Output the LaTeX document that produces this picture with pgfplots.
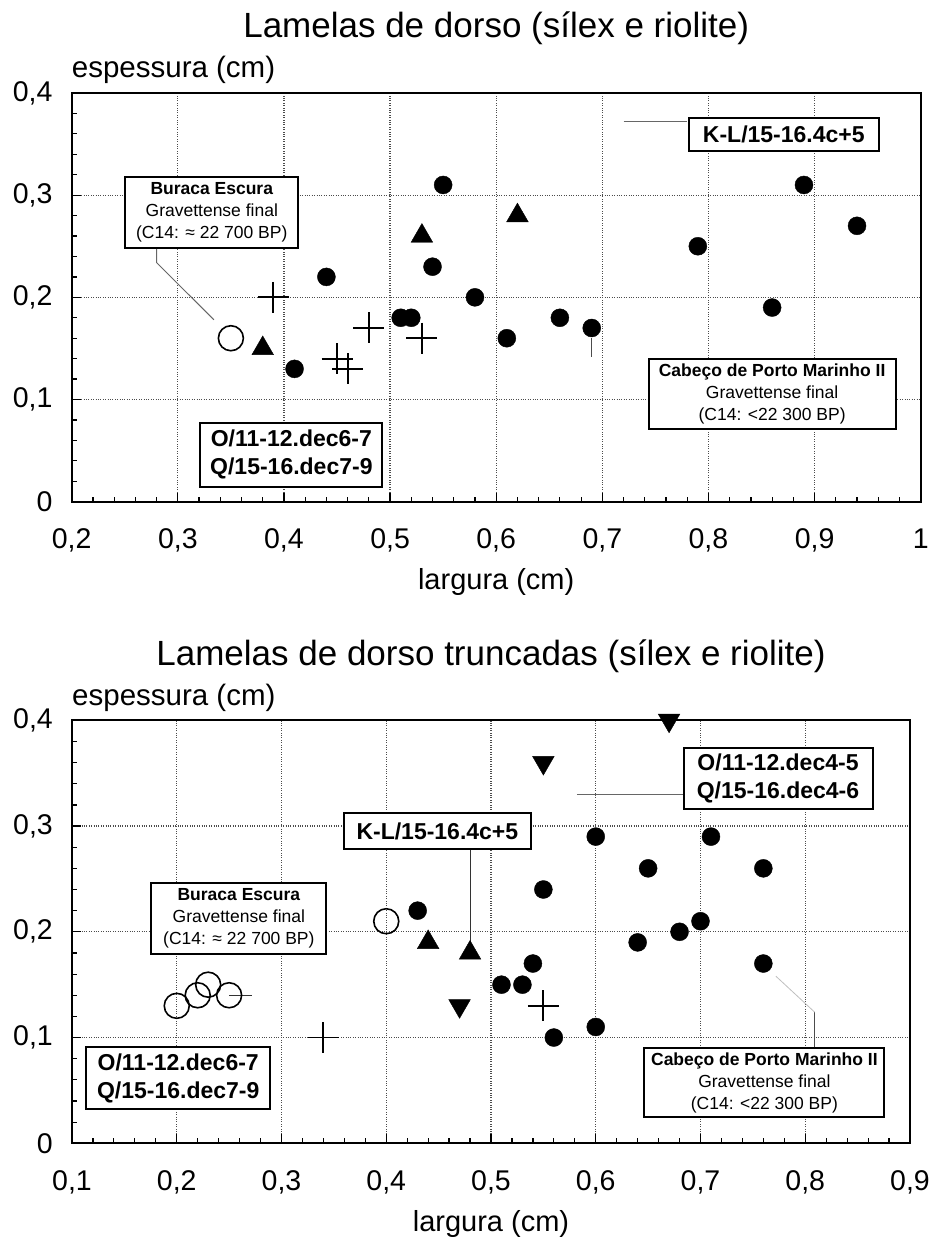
\documentclass[border=0pt]{standalone}
\usepackage{fontspec}
\setmainfont{Liberation Sans}
\usepackage{pgfplots}
\pgfplotsset{compat=1.18}
\newcommand{\fs}[2]{\fontsize{#1}{#2}\selectfont}

\pgfplotsset{
  mystyle/.style={
    scale only axis, clip=false,
    tick align=inside, tick pos=left,
    major tick length=9pt, minor tick length=5pt,
    minor x tick num=4, minor y tick num=4,
    grid=major, major grid style={dotted, line width=1.2pt, black!70},
    axis line style={line width=2.2pt},
    every tick/.style={black, line width=1.2pt},
    every tick label/.append style={font=\fs{28.5}{30}, inner sep=0pt},
    xticklabel style={anchor=north, yshift=-27pt},
    yticklabel style={anchor=east, xshift=-19pt},
    ymin=0, ymax=0.4, ytick={0,0.1,0.2,0.3,0.4},
    yticklabels={0,{0,1},{0,2},{0,3},{0,4}},
    every axis title/.style={at={(0.5,1)}, anchor=base, yshift=55pt, font=\fs{35}{38}, inner sep=0pt},
    every axis x label/.style={at={(0.5,0)}, anchor=base, yshift=-88pt, font=\fs{29}{32}, inner sep=0pt},
    every axis y label/.style={at={(0,1)}, anchor=base west, yshift=15pt, font=\fs{29.5}{32}, inner sep=0pt},
    xlabel={largura (cm)}, ylabel={espessura (cm)},
  },
  fc/.style={only marks, mark=*, mark size=9pt, black, mark options={fill=black}},
  oc/.style={only marks, mark=o, mark size=12.5pt, black, line width=1.6pt},
  tu/.style={only marks, mark=triangle*, mark size=12.5pt, black},
  td/.style={only marks, mark=triangle*, mark size=12.5pt, black, mark options={rotate=180}},
  pl/.style={only marks, mark=+, mark size=15.5pt, black, line width=1.8pt},
}
\tikzset{
  bigbox/.style={draw, line width=2pt, fill=white, align=center, inner sep=0pt, font=\fs{23}{28}\bfseries},
  smallbox/.style={draw, line width=2pt, fill=white, align=center, inner sep=0pt, font=\fs{17.5}{22}},
  lead/.style={line width=1pt, black!60},
}

\begin{document}
\begin{tikzpicture}
\useasboundingbox (-71.7pt,501.7pt) rectangle (857.3pt,-739.3pt);

% ---------- top chart ----------
\begin{axis}[mystyle,
  at={(0pt,0pt)}, anchor=south west,
  width=849pt, height=408.7pt,
  xmin=0.2, xmax=1,
  xtick={0.2,0.3,0.4,0.5,0.6,0.7,0.8,0.9,1},
  xticklabels={{0,2},{0,3},{0,4},{0,5},{0,6},{0,7},{0,8},{0,9},1},
  title={Lamelas de dorso (sílex e riolite)},
]
\draw[lead] (axis cs:0.28,0.249) -- (axis cs:0.28,0.234) -- (axis cs:0.334,0.178);
\draw[lead] (axis cs:0.72,0.372) -- (axis cs:0.78,0.372);
\draw[line width=1pt, black!70] (axis cs:0.69,0.16) -- (axis cs:0.69,0.142);

\addplot[fc] coordinates {(0.41,0.13) (0.44,0.22) (0.51,0.18) (0.52,0.18) (0.54,0.23) (0.55,0.31) (0.58,0.20) (0.61,0.16) (0.66,0.18) (0.69,0.17) (0.79,0.25) (0.86,0.19) (0.89,0.31) (0.94,0.27)};
\addplot[oc] coordinates {(0.35,0.16)};
\addplot[tu] coordinates {(0.38,0.15) (0.53,0.26) (0.62,0.28)};
\addplot[pl] coordinates {(0.39,0.20) (0.45,0.14) (0.46,0.13) (0.48,0.17) (0.53,0.16)};

\node[smallbox, minimum width=173pt, minimum height=71pt] at (axis cs:0.332,0.2835)
  {{\bfseries Buraca Escura}\\Gravettense final\\(C14: ≈ 22 700 BP)};
\node[bigbox, minimum width=182pt, minimum height=64pt] at (axis cs:0.407,0.0458)
  {O/11-12.dec6-7\\Q/15-16.dec7-9};
\node[bigbox, minimum width=190pt, minimum height=33pt] at (axis cs:0.871,0.359)
  {K-L/15-16.4c+5};
\node[smallbox, minimum width=247pt, minimum height=70pt] at (axis cs:0.860,0.1056)
  {{\bfseries Cabeço de Porto Marinho II}\\Gravettense final\\(C14: <22 300 BP)};
\end{axis}

% ---------- bottom chart ----------
\begin{axis}[mystyle,
  at={(0.3pt,-641.6pt)}, anchor=south west,
  width=838pt, height=423pt,
  xmin=0.1, xmax=0.9,
  xtick={0.1,0.2,0.3,0.4,0.5,0.6,0.7,0.8,0.9},
  xticklabels={{0,1},{0,2},{0,3},{0,4},{0,5},{0,6},{0,7},{0,8},{0,9}},
  title={Lamelas de dorso truncadas (sílex e riolite)},
]
\draw[line width=1pt, black!80] (axis cs:0.25,0.14) -- (axis cs:0.272,0.14);
\draw[line width=1pt, black!80] (axis cs:0.48,0.278) -- (axis cs:0.48,0.19);
\draw[lead] (axis cs:0.582,0.33) -- (axis cs:0.684,0.33);
\draw[line width=1pt, black!70] (axis cs:0.809,0.09) -- (axis cs:0.809,0.124);
\draw[line width=0.8pt, black!25] (axis cs:0.809,0.124) -- (axis cs:0.772,0.158);

\addplot[fc] coordinates {(0.43,0.22) (0.51,0.15) (0.53,0.15) (0.54,0.17) (0.55,0.24) (0.56,0.10) (0.60,0.29) (0.60,0.11) (0.64,0.19) (0.65,0.26) (0.68,0.20) (0.70,0.21) (0.71,0.29) (0.76,0.26) (0.76,0.17)};
\addplot[oc] coordinates {(0.20,0.13) (0.22,0.14) (0.23,0.15) (0.25,0.14) (0.40,0.21)};
\addplot[tu] coordinates {(0.44,0.19) (0.48,0.18)};
\addplot[td] coordinates {(0.47,0.13) (0.55,0.36) (0.67,0.40)};
\addplot[pl] coordinates {(0.34,0.10) (0.55,0.13)};

\node[bigbox, minimum width=187pt, minimum height=36pt] at (axis cs:0.4488,0.2953)
  {K-L/15-16.4c+5};
\node[bigbox, minimum width=189pt, minimum height=61pt] at (axis cs:0.774,0.3448)
  {O/11-12.dec4-5\\Q/15-16.dec4-6};
\node[smallbox, minimum width=240pt, minimum height=69pt] at (axis cs:0.761,0.0571)
  {{\bfseries Cabeço de Porto Marinho II}\\Gravettense final\\(C14: <22 300 BP)};
\node[smallbox, minimum width=175pt, minimum height=71pt] at (axis cs:0.2593,0.2127)
  {{\bfseries Buraca Escura}\\Gravettense final\\(C14: ≈ 22 700 BP)};
\node[bigbox, minimum width=184pt, minimum height=62pt] at (axis cs:0.2014,0.0613)
  {O/11-12.dec6-7\\Q/15-16.dec7-9};
\end{axis}
\end{tikzpicture}
\end{document}
